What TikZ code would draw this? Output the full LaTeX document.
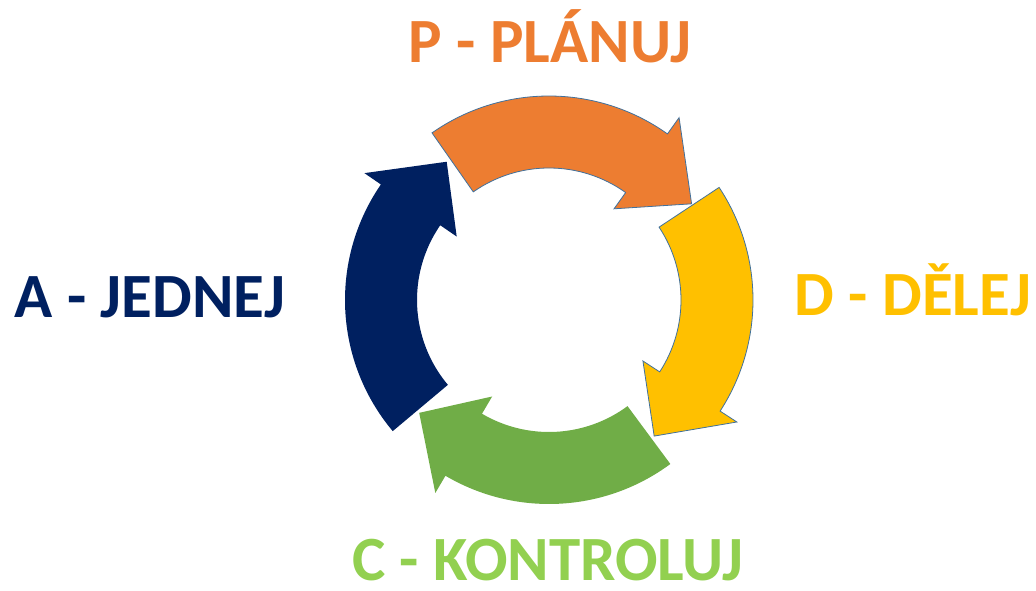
\documentclass[tikz,border=0pt]{standalone}
\usepackage{fontspec}
\setmainfont{Carlito}
\definecolor{cOrange}{HTML}{ED7D31}
\definecolor{cYellow}{HTML}{FFC000}
\definecolor{cGreen}{HTML}{70AD47}
\definecolor{cNavy}{HTML}{002060}
\definecolor{cLGreen}{HTML}{92D050}
\definecolor{cEdge}{HTML}{41719C}
\newcommand{\cycarrow}[4]{%
  \filldraw[#4] (#1:204pt) arc[start angle=#1, end angle=#2, radius=204pt]
    -- (#2:224pt) -- (#3:172pt) -- (#2:112pt) -- (#2:132pt)
    arc[start angle=#2, end angle=#1, radius=132pt] -- cycle;}
\tikzset{
  lbl/.style={anchor=base, font=\fontsize{63}{63}\selectfont\bfseries, inner sep=0pt},
  edged/.style={draw=cEdge, line width=0.8pt, line join=miter},
  plain/.style={draw=none}
}
\begin{document}
\begin{tikzpicture}[x=1pt,y=1pt]
\useasboundingbox (0,0) rectangle (1036,590);
\begin{scope}[shift={(549,290)}]
  \cycarrow{125}{54.5}{34}{fill=cOrange, edged}
  \cycarrow{33.5}{-33}{-52.3}{fill=cYellow, edged}
  \cycarrow{-53.5}{-120.5}{-139}{fill=cGreen, plain}
  \cycarrow{220}{145.5}{126.5}{fill=cNavy, plain}
\end{scope}
\node[lbl, text=cOrange] (p) at (550,527) {P - PLÁNUJ};
\node[lbl, text=cYellow] (d) at (913,275) {D - DĚLEJ};
\node[lbl, text=cLGreen] (c) at (548,10) {C - KONTROLUJ};
\node[lbl, text=cNavy] (a) at (150,273) {A - JEDNEJ};
\end{tikzpicture}
\end{document}
